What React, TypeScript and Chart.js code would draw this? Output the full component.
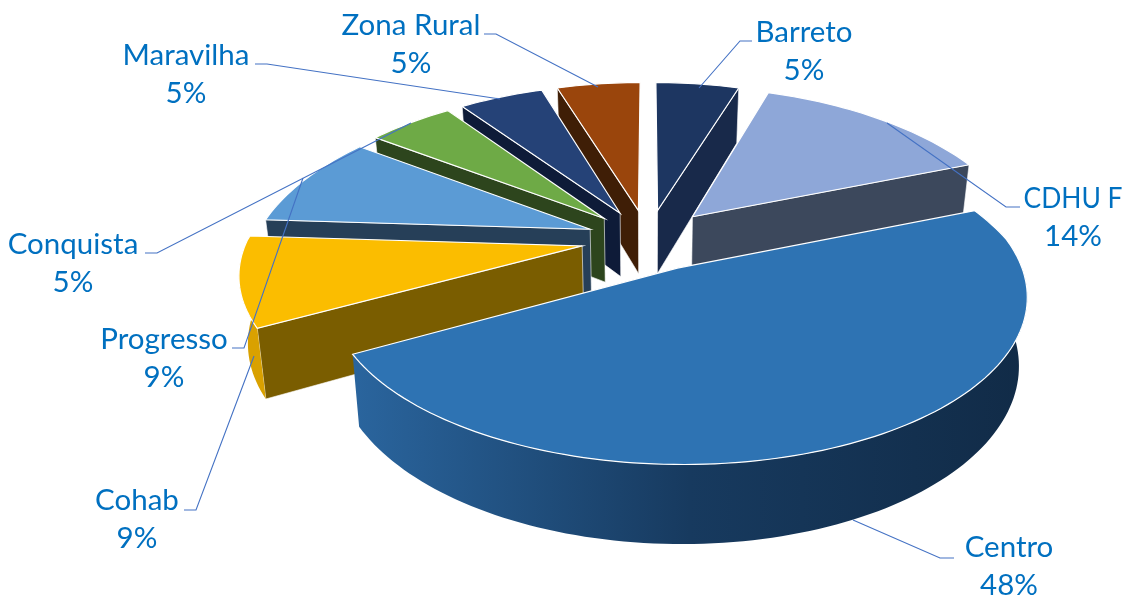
import React, { useEffect, useRef } from "react";
import { Chart, registerables } from "chart.js";

Chart.register(...registerables);

const categories = ["Barreto", "CDHU F", "Centro", "Cohab", "Progresso", "Conquista", "Maravilha", "Zona Rural"];
const shareValues = [5, 14, 48, 9, 9, 5, 5, 5];
const shareLabels = ["5%", "14%", "48%", "9%", "9%", "5%", "5%", "5%"];
const topColors = ["#1d3661", "#8ea7d8", "#2e73b3", "#fbbd00", "#5b9bd5", "#6eaa46", "#254277", "#9a450c"];
const wallColors = ["#18294a", "#3c485c", "#122e4c", "#7a5d00", "#263f58", "#2d451d", "#0e1b38", "#3f1e06"];
const outerLight = ["#1d3661", "#3c485c", "#2a659e", "#e2a900", "#263f58", "#2d451d", "#0e1b38", "#3f1e06"];
const outerMid = ["#18294a", "#3c485c", "#173a5f", "#d9a100", "#263f58", "#2d451d", "#0e1b38", "#3f1e06"];
const outerDark = ["#18294a", "#3c485c", "#112b47", "#d9a100", "#263f58", "#2d451d", "#0e1b38", "#3f1e06"];
const explode = [0.19, 0.2, 0.2, 0.2, 0.186, 0.19, 0.19, 0.19];

// layout of the 3D projection
const CX = 648, CY = 239, RX = 335, RY = 156, PERSP = 0.155, PERSP_FAR_X = 0.22, DEPTH = 65, SHRINK = 0.978;
const LABEL_LAYOUT: { x: number; y: number; maxW?: number; line: number[][] }[] = [
  { x: 804, y: 32, line: [[752, 41], [740, 41], [699, 88]] },
  { x: 1073, y: 198, maxW: 99, line: [[1020, 207], [1006, 207], [887, 123]] },
  { x: 1009, y: 547, line: [[954, 558], [940, 558], [853, 520]] },
  { x: 137, y: 500, line: [[184, 510], [196, 510], [254, 356]] },
  { x: 164, y: 339, line: [[232, 348], [244, 348], [303, 178]] },
  { x: 73, y: 244, line: [[145, 253], [157, 253], [411, 123]] },
  { x: 186, y: 55, line: [[255, 64], [267, 64], [500, 99]] },
  { x: 411, y: 25, line: [[484, 34], [496, 34], [598, 87]] },
];

function project(u: number, v: number, z: number) {
  const s = 1 / (1 - PERSP * v);
  const sx = 1 / (1 - (v < 0 ? PERSP_FAR_X : PERSP) * v);
  const k = z > 0 ? SHRINK : 1;
  return { x: CX + RX * u * sx * k, y: CY + (RY * v + DEPTH * z) * s };
}

function poly(ctx: CanvasRenderingContext2D, pts: { x: number; y: number }[], fill: string | CanvasGradient, stroke?: string, lw = 1.2) {
  ctx.beginPath();
  pts.forEach((p, i) => (i ? ctx.lineTo(p.x, p.y) : ctx.moveTo(p.x, p.y)));
  ctx.closePath();
  ctx.fillStyle = fill;
  ctx.fill();
  if (stroke) {
    ctx.strokeStyle = stroke;
    ctx.lineWidth = lw;
    ctx.stroke();
  }
}

const pie3d = {
  id: "pie3d",
  beforeDatasetDraw(chart: any) {
    const ctx: CanvasRenderingContext2D = chart.ctx;
    const arcs = chart.getDatasetMeta(0).data;
    const items = arcs.map((arc: any, i: number) => {
      const a0 = arc.startAngle + Math.PI / 2;
      const a1 = arc.endAngle + Math.PI / 2;
      const mid = (a0 + a1) / 2;
      const ou = explode[i] * Math.sin(mid);
      const ov = -explode[i] * Math.cos(mid);
      const n = Math.max(8, Math.ceil((a1 - a0) * 40));
      const rim: { u: number; v: number }[] = [];
      for (let k = 0; k <= n; k++) {
        const t = a0 + ((a1 - a0) * k) / n;
        rim.push({ u: ou + Math.sin(t), v: ov - Math.cos(t) });
      }
      return { i, ou, ov, rim, a0, a1, color: arc.options.backgroundColor };
    });
    items.sort((p: any, q: any) => p.ov + p.rim[Math.floor(p.rim.length / 2)].v * 0.25 - (q.ov + q.rim[Math.floor(q.rim.length / 2)].v * 0.25));
    for (const it of items) {
      const top = it.rim.map((p: any) => project(p.u, p.v, 0));
      const bot = it.rim.map((p: any) => project(p.u, p.v, 1));
      const apexT = project(it.ou, it.ov, 0);
      const apexB = project(it.ou, it.ov, 1);
      const last = it.rim.length - 1;
      // only the radial walls facing the viewer are painted
      if (-Math.sin(it.a0) > 0) poly(ctx, [apexT, top[0], bot[0], apexB], wallColors[it.i], "rgba(255,255,255,0.75)", 0.8);
      if (Math.sin(it.a1) > 0) poly(ctx, [apexT, top[last], bot[last], apexB], wallColors[it.i], "rgba(255,255,255,0.75)", 0.8);
      // outer wall, only where the rim faces the viewer
      const front = it.rim
        .map((p: any, k: number) => ({ p, k, t: it.a0 + ((it.a1 - it.a0) * k) / last }))
        .filter((e: any) => -Math.cos(e.t) > -0.02);
      if (front.length > 1) {
        const ft = front.map((e: any) => top[e.k]);
        const fb = front.map((e: any) => bot[e.k]);
        const xs = ft.map((p: any) => p.x);
        const grad = ctx.createLinearGradient(Math.min(...xs), 0, Math.max(...xs), 0);
        grad.addColorStop(0, outerLight[it.i]);
        grad.addColorStop(0.5, outerMid[it.i]);
        grad.addColorStop(1, outerDark[it.i]);
        poly(ctx, [...ft, ...fb.slice().reverse()], grad);
      }
      // top face
      poly(ctx, [apexT, ...top], it.color, "#ffffff");
    }
    // leader lines and labels
    ctx.save();
    ctx.strokeStyle = "#4472c4";
    ctx.lineWidth = 1.1;
    LABEL_LAYOUT.forEach((l) => {
      ctx.beginPath();
      l.line.forEach((p, k) => (k ? ctx.lineTo(p[0], p[1]) : ctx.moveTo(p[0], p[1])));
      ctx.stroke();
    });
    ctx.fillStyle = "#0070c0";
    ctx.textAlign = "center";
    ctx.textBaseline = "middle";
    ctx.font = '29.5px Lato, "Open Sans", sans-serif';
    LABEL_LAYOUT.forEach((l, i) => {
      if (l.maxW) ctx.fillText(categories[i], l.x, l.y, l.maxW);
      else ctx.fillText(categories[i], l.x, l.y);
      ctx.fillText(shareLabels[i], l.x, l.y + 38);
    });
    ctx.restore();
    return false;
  },
};

export default function App() {
  const ref = useRef<HTMLCanvasElement>(null);
  useEffect(() => {
    const chart = new Chart(ref.current!, {
      type: "pie",
      data: {
        labels: categories,
        datasets: [{ data: shareValues, backgroundColor: topColors, borderWidth: 0 }],
      },
      options: {
        animation: false,
        responsive: false,
        plugins: { legend: { display: false }, tooltip: { enabled: false } },
      },
      plugins: [pie3d as any],
    });
    return () => chart.destroy();
  }, []);
  return (
    <div style={{ position: "fixed", left: 0, top: 0, width: 1125, height: 596, background: "#fff" }}>
      <canvas ref={ref} width={1125} height={596} style={{ display: "block" }} />
    </div>
  );
}
